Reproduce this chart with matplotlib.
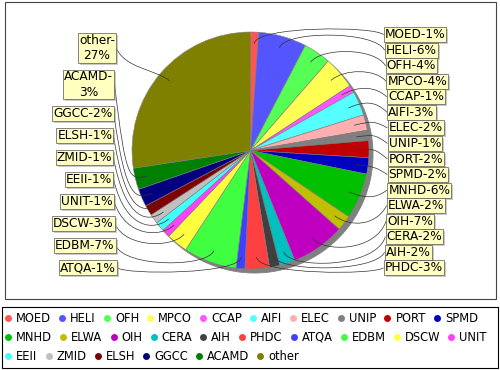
import matplotlib
matplotlib.use("Agg")
import matplotlib.pyplot as plt
from matplotlib.path import Path
from matplotlib.patches import PathPatch, Rectangle
import numpy as np

# ---------------- data ----------------
names = ["MOED", "HELI", "OFH", "MPCO", "CCAP", "AIFI", "ELEC", "UNIP", "PORT",
         "SPMD", "MNHD", "ELWA", "OIH", "CERA", "AIH", "PHDC", "ATQA", "EDBM",
         "DSCW", "UNIT", "EEII", "ZMID", "ELSH", "GGCC", "ACAMD", "other"]
values = [1.1, 6.5, 3.7, 4.4, 1.0, 3.3, 2.1, 1.4, 2.3,
          2.2, 6.2, 2.1, 7.3, 2.1, 1.4, 3.3, 1.2, 7.2,
          2.9, 1.1, 1.3, 1.3, 1.4, 2.4, 2.9, 27.2]
pct_labels = [1, 6, 4, 4, 1, 3, 2, 1, 2,
              2, 6, 2, 7, 2, 2, 3, 1, 7,
              3, 1, 1, 1, 1, 2, 3, 27]
wrapped = {"other", "ACAMD"}
colors = ["#FF5555", "#5555FF", "#55FF55", "#FFFF55", "#FF55FF", "#55FFFF",
          "#FFAFAF", "#808080", "#C00000", "#0000C0", "#00C000", "#C0C000",
          "#C000C0", "#00C0C0", "#404040", "#FF4040", "#4040FF", "#40FF40",
          "#FFFF40", "#FF40FF", "#40FFFF", "#C0C0C0", "#800000", "#000080",
          "#008000", "#808000"]

# ---------------- layout ----------------
W, H = 500, 370
FS_LAB = 8.7
FS_LEG = 8.3
fig = plt.figure(figsize=(W / 100, H / 100), dpi=100)
ax = fig.add_axes([0, 0, 1, 1])


def Y(y):
    return H - y


cx, cy = 250.5, 150.5
r = 118.5
r_link = r / 0.95
gap_lab = 12.3

n = len(values)
# shadow
ax.pie(values, colors=["#808080"] * n, startangle=90, counterclock=False,
       center=(cx + 4, Y(cy + 4)), radius=r,
       wedgeprops=dict(edgecolor="#808080", linewidth=0.6), frame=False)
wedges, _ = ax.pie(values, colors=colors, startangle=90, counterclock=False,
                   center=(cx, Y(cy)), radius=r,
                   wedgeprops=dict(edgecolor="#808080", linewidth=0.4), frame=False)
for w in wedges:
    w.set_zorder(2)

ax.set_xlim(0, W)
ax.set_ylim(0, H)
ax.set_aspect("auto")
ax.axis("off")

# plot and legend frames
ax.add_patch(Rectangle((5, Y(299)), 491, 297, fill=False, ec="#444444", lw=0.8, zorder=1))
ax.add_patch(Rectangle((2, Y(368)), 496, 61, fill=False, ec="black", lw=0.8, zorder=1))

# label angles
vals = np.array(values, dtype=float)
frac = vals / vals.sum()
cum = np.cumsum(frac) - frac / 2
theta = np.deg2rad(90 - 360 * cum)  # math angle (ccw from east)

right_idx = [i for i in range(n) if np.cos(theta[i]) >= 0]
left_idx = [i for i in range(n) if np.cos(theta[i]) < 0]
right_idx.sort(key=lambda i: -np.sin(theta[i]))
left_idx.sort(key=lambda i: -np.sin(theta[i]))


def label_text(i):
    if names[i] in wrapped:
        return f"{names[i]}-\n{pct_labels[i]}%"
    return f"{names[i]}-{pct_labels[i]}%"


def spread(idx, top, bottom):
    hs = [30.0 if names[i] in wrapped else 15.5 for i in idx]
    g = (bottom - top - sum(hs)) / (len(idx) - 1)
    ys = []
    y = top
    for h in hs:
        ys.append(y + h / 2)
        y += h + g
    return ys


renderer = fig.canvas.get_renderer()
bbox_main = dict(boxstyle="square,pad=0.08", fc="#FFFFC0", ec="#555555", lw=0.5)


def draw_link(i, tx, ty, side):
    th = theta[i]
    ax_x = cx + side * r_link
    ex = cx + np.cos(th) * r_link
    ey = cy - np.sin(th) * r_link
    lx = cx + np.cos(th) * r * 0.9
    ly = cy - np.sin(th) * r * 0.9
    verts = [(tx, Y(ty)), (ax_x, Y(ey)), (ex, Y(ey)), (lx, Y(ly))]
    p = Path(verts, [Path.MOVETO, Path.CURVE4, Path.CURVE4, Path.CURVE4])
    ax.add_patch(PathPatch(p, fill=False, ec="#333333", lw=0.5, zorder=3))


def draw_label(i, x, y, ha):
    t = ax.text(x, Y(y), label_text(i), fontsize=FS_LAB, ha=ha, va="center",
                multialignment="center", bbox=bbox_main, color="black", zorder=5)
    t.update_bbox_position_size(renderer)
    bb = t.get_bbox_patch().get_window_extent(renderer)
    inv = ax.transData.inverted()
    (x0, y0), (x1, y1) = inv.transform([(bb.x0, bb.y0), (bb.x1, bb.y1)])
    ax.add_patch(Rectangle((x0 + 2, y0 - 2), x1 - x0, y1 - y0,
                           fc=(0.59, 0.59, 0.59, 0.5), ec="none", zorder=4))


for i, y in zip(right_idx, spread(right_idx, 27.0, 275.5)):
    d = (y - cy) / r_link
    xl = cx + r_link + gap_lab - 4.5 * d * d
    draw_link(i, xl, y, +1)
    draw_label(i, xl + 1.2, y, "left")

for i, y in zip(left_idx, spread(left_idx, 33.0, 275.5)):
    d = (y - cy) / r_link
    xr = cx - r_link - gap_lab + 4.0 * d * d
    draw_link(i, xr, y, -1)
    draw_label(i, xr - 1.2, y, "right")

# ---------------- legend (flow layout) ----------------
row_y = 318.0
row_step = 19.2
x = 8.3
x_max = 494.0
for name, c in zip(names, colors):
    t = ax.text(0, 0, name, fontsize=FS_LEG)
    wpx = t.get_window_extent(renderer=renderer).width
    t.remove()
    if x + 8 + wpx > x_max:
        x = 8.3
        row_y += row_step
    ax.plot([x], [Y(row_y)], "o", ms=5.0, color=c, mec="none", zorder=5)
    ax.text(x + 8, Y(row_y), name, fontsize=FS_LEG, ha="left", va="center",
            color="black", zorder=5)
    x = x + 8 + wpx + 11

fig.savefig("out.png", dpi=100)
